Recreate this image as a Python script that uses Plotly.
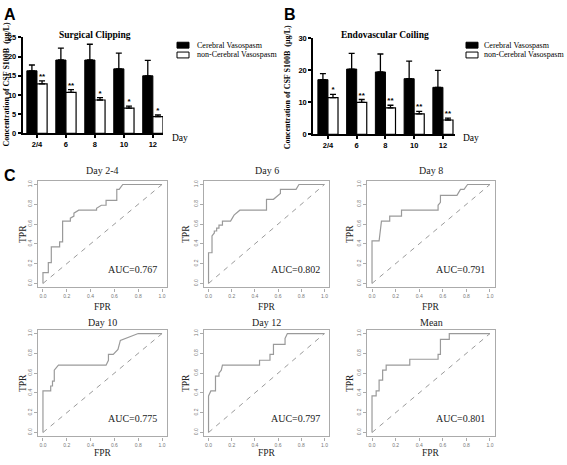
import plotly.graph_objects as go

W, H = 567, 465

# ---------------- data ----------------
days = ["2/4", "6", "8", "10", "12"]
clip_cv = [16.3, 19.1, 19.1, 16.8, 15.0]
clip_cv_err = [1.5, 3.1, 4.1, 4.1, 4.0]
clip_ncv = [12.9, 10.7, 8.7, 6.6, 4.4]
clip_ncv_err = [0.8, 0.7, 0.6, 0.5, 0.4]
clip_sig = ["**", "**", "*", "*", "*"]

coil_cv = [17.1, 20.4, 19.5, 17.4, 14.7]
coil_cv_err = [1.9, 4.9, 5.6, 5.5, 5.3]
coil_ncv = [11.5, 10.0, 8.3, 6.4, 4.5]
coil_ncv_err = [1.0, 0.9, 0.8, 0.8, 0.6]
coil_sig = ["*", "**", "**", "**", "**"]

roc_titles = ["Day 2-4", "Day 6", "Day 8", "Day 10", "Day 12", "Mean"]
roc_auc = ["0.767", "0.802", "0.791", "0.775", "0.797", "0.801"]
roc_fpr = [
    [0, 0, 0.045, 0.045, 0.07, 0.07, 0.14, 0.14, 0.165, 0.165, 0.23, 0.23, 0.26, 0.26, 0.30, 0.45, 0.45, 0.49, 0.53, 0.53, 0.62, 0.62, 0.64, 0.67, 1],
    [0, 0, 0.03, 0.03, 0.05, 0.05, 0.07, 0.07, 0.09, 0.09, 0.12, 0.12, 0.19, 0.22, 0.27, 0.50, 0.50, 0.56, 0.62, 0.62, 0.755, 0.78, 1],
    [0, 0, 0.06, 0.08, 0.15, 0.15, 0.25, 0.25, 0.56, 0.56, 0.58, 0.58, 0.72, 0.75, 0.78, 0.81, 1],
    [0, 0, 0.065, 0.065, 0.08, 0.08, 0.095, 0.095, 0.13, 0.53, 0.55, 0.55, 0.59, 0.63, 0.65, 0.69, 0.80, 1],
    [0, 0, 0.02, 0.06, 0.06, 0.09, 0.09, 0.11, 0.12, 0.44, 0.44, 0.53, 0.53, 0.56, 0.56, 0.66, 0.66, 0.68, 1],
    [0, 0, 0.035, 0.035, 0.06, 0.06, 0.09, 0.09, 0.12, 0.12, 0.32, 0.32, 0.56, 0.56, 0.58, 0.58, 0.655, 0.655, 1],
]
roc_tpr = [
    [0, 0.11, 0.11, 0.21, 0.21, 0.37, 0.37, 0.42, 0.42, 0.63, 0.63, 0.66, 0.68, 0.71, 0.74, 0.74, 0.76, 0.79, 0.79, 0.84, 0.84, 0.95, 0.95, 1.0, 1.0],
    [0, 0.31, 0.31, 0.48, 0.51, 0.53, 0.53, 0.56, 0.56, 0.59, 0.59, 0.63, 0.63, 0.69, 0.74, 0.74, 0.85, 0.85, 0.91, 0.95, 0.95, 1.0, 1.0],
    [0, 0.43, 0.43, 0.63, 0.63, 0.68, 0.68, 0.74, 0.74, 0.79, 0.82, 0.89, 0.89, 0.95, 0.95, 1.0, 1.0],
    [0, 0.42, 0.42, 0.47, 0.47, 0.52, 0.52, 0.63, 0.68, 0.68, 0.73, 0.79, 0.79, 0.84, 0.93, 0.95, 1.0, 1.0],
    [0, 0.37, 0.42, 0.42, 0.57, 0.57, 0.60, 0.63, 0.68, 0.68, 0.73, 0.73, 0.79, 0.79, 0.89, 0.89, 0.95, 1.0, 1.0],
    [0, 0.37, 0.37, 0.42, 0.42, 0.53, 0.53, 0.63, 0.63, 0.68, 0.68, 0.74, 0.74, 0.79, 0.79, 0.94, 0.94, 1.0, 1.0],
]
roc_ticks = [0, 0.2, 0.4, 0.6, 0.8, 1.0]

# ---------------- helpers ----------------
def px(x):
    return x / W

def py(y):
    return 1 - y / H

SERIF = "Liberation Serif, Times New Roman, serif"
SANS = "Liberation Sans, Arial, sans-serif"

fig = go.Figure()
annotations = []
shapes = []


def note(text, x, y, size, family=SERIF, color="black", weight="normal", xanchor="center",
         yanchor="middle", angle=0, xref="paper", yref="paper"):
    if xref == "paper":
        x = px(x)
    if yref == "paper":
        y = py(y)
    annotations.append(dict(text=text, x=x, y=y, xref=xref, yref=yref, showarrow=False,
                            xanchor=xanchor, yanchor=yanchor, textangle=angle,
                            font=dict(family=family, size=size, color=color, weight=weight)))


# ---------------- bar panels A and B ----------------
bar_panels = [
    dict(cv=clip_cv, cve=clip_cv_err, ncv=clip_ncv, ncve=clip_ncv_err, sig=clip_sig,
         title="Surgical Clipping", xd=(22.5, 163), yd=(34, 132), yr=25, ytv=[0, 5, 10, 15, 20, 25],
         xr=[-0.5, 4.35], letter=("A", 2), ylab_x=6, ylab_y=82, day_x=170, title_x=95,
         leg_x=177, leg_tx=195),
    dict(cv=coil_cv, cve=coil_cv_err, ncv=coil_ncv, ncve=coil_ncv_err, sig=coil_sig,
         title="Endovascular Coiling", xd=(313, 455), yd=(35, 133), yr=30, ytv=[0, 10, 20, 30],
         xr=[-0.52, 4.42], letter=("B", 282), ylab_x=287, ylab_y=85, day_x=461, title_x=385,
         leg_x=466, leg_tx=482),
]

axis_idx = 1
for p in bar_panels:
    xa = "x" if axis_idx == 1 else f"x{axis_idx}"
    ya = "y" if axis_idx == 1 else f"y{axis_idx}"
    xpos = list(range(len(days)))
    fig.add_trace(go.Bar(
        x=xpos, y=p["cv"], width=0.35, offset=-0.35, name="Cerebral Vasospasm",
        marker=dict(color="black", line=dict(color="black", width=1)),
        error_y=dict(type="data", array=p["cve"], arrayminus=[0] * 5, symmetric=False,
                     color="black", thickness=1.3, width=3),
        xaxis=xa, yaxis=ya, showlegend=False))
    fig.add_trace(go.Bar(
        x=xpos, y=p["ncv"], width=0.35, offset=0, name="non-Cerebral Vasospasm",
        marker=dict(color="white", line=dict(color="black", width=1.2)),
        error_y=dict(type="data", array=p["ncve"], arrayminus=[0] * 5, symmetric=False,
                     color="black", thickness=1.3, width=3),
        xaxis=xa, yaxis=ya, showlegend=False))
    fig.add_trace(go.Scatter(
        x=[i + 0.175 for i in xpos], y=[a + b for a, b in zip(p["ncv"], p["ncve"])],
        mode="text", text=p["sig"], textposition="top center",
        textfont=dict(family=SANS, size=8, color="black", weight="bold"),
        xaxis=xa, yaxis=ya, showlegend=False, hoverinfo="skip"))

    axfont = dict(family=SANS, size=7.5, color="black", weight="bold")
    fig.update_layout(**{
        ("xaxis" if axis_idx == 1 else f"xaxis{axis_idx}"): dict(
            domain=[px(p["xd"][0]), px(p["xd"][1])], range=p["xr"], anchor=ya,
            tickvals=xpos, ticktext=days, showline=True, linecolor="black", linewidth=1.5,
            ticks="outside", ticklen=3, tickwidth=1.5, tickcolor="black", tickfont=axfont,
            showgrid=False, zeroline=False, fixedrange=True),
        ("yaxis" if axis_idx == 1 else f"yaxis{axis_idx}"): dict(
            domain=[py(p["yd"][1]), py(p["yd"][0])], range=[0, p["yr"]], anchor=xa,
            tickvals=p["ytv"], showline=True, linecolor="black", linewidth=1.5,
            ticks="outside", ticklen=3, tickwidth=1.5, tickcolor="black", tickfont=axfont,
            showgrid=False, zeroline=False, fixedrange=True),
    })

    note(p["title"], p["title_x"], 32, 9.5, weight="bold")
    note("Concentration of CSF S100B  (μg/L)", p["ylab_x"], p["ylab_y"], 8, weight="bold", angle=-90)
    note("Day", p["day_x"], 137, 9.5, xanchor="left")
    note(p["letter"][0], p["letter"][1], 11, 16, family=SANS, weight="bold", xanchor="left")
    # legend swatches + labels
    for lab, col, yc in [("Cerebral Vasospasm", "black", 42), ("non-Cerebral Vasospasm", "white", 52)]:
        shapes.append(dict(type="rect", xref="paper", yref="paper",
                           x0=px(p["leg_x"]), x1=px(p["leg_x"] + 12), y0=py(yc + 3), y1=py(yc - 3),
                           fillcolor=col, line=dict(color="black", width=1)))
        note(lab, p["leg_tx"], yc, 8, xanchor="left")
    axis_idx += 1

note("C", 2, 175, 16, family=SANS, weight="bold", xanchor="left")

# ---------------- ROC panels C ----------------
cols = [(38.2, 166.8), (203.9, 329.1), (367.3, 494.7)]
rows = [(180, 289), (332, 441)]
title_y = [170, 325]
fpr_y = [309, 458]
tpr_x = [23, 186, 350]
LINE = "#9a9a9a"
FRAME = "#ababab"

for k in range(6):
    r, c = divmod(k, 3)
    xa = f"x{axis_idx}"
    ya = f"y{axis_idx}"
    fig.add_trace(go.Scatter(x=[0, 1], y=[0, 1], mode="lines",
                             line=dict(color=LINE, width=1, dash="5px,5px"),
                             xaxis=xa, yaxis=ya, showlegend=False, hoverinfo="skip"))
    fig.add_trace(go.Scatter(x=roc_fpr[k], y=roc_tpr[k], mode="lines",
                             line=dict(color=LINE, width=1.2),
                             xaxis=xa, yaxis=ya, showlegend=False, name=roc_titles[k]))
    tf = dict(family=SANS, size=5, color="#777")
    fig.update_layout(**{
        f"xaxis{axis_idx}": dict(domain=[px(cols[c][0]), px(cols[c][1])], range=[-0.04, 1.04], anchor=ya,
                                 tickvals=roc_ticks, tickformat=".1f", showline=True, mirror=True,
                                 linecolor=FRAME, linewidth=1.2, ticks="outside", ticklen=3,
                                 tickcolor=FRAME, tickwidth=1, tickfont=tf,
                                 showgrid=False, zeroline=False, fixedrange=True),
        f"yaxis{axis_idx}": dict(domain=[py(rows[r][1]), py(rows[r][0])], range=[-0.04, 1.04], anchor=xa,
                                 tickvals=roc_ticks, tickformat=".1f", showline=True, mirror=True,
                                 linecolor=FRAME, linewidth=1.2, ticks="outside", ticklen=3,
                                 tickcolor=FRAME, tickwidth=1, tickfont=tf, tickangle=-90,
                                 showgrid=False, zeroline=False, fixedrange=True),
    })
    cx = (cols[c][0] + cols[c][1]) / 2
    note(roc_titles[k], cx, title_y[r], 10, color="#222")
    note("FPR", cx, fpr_y[r], 9.5, color="#222")
    note("TPR", tpr_x[c], (rows[r][0] + rows[r][1]) / 2, 9.5, color="#222", angle=-90)
    note("AUC=" + roc_auc[k], 0.975, 0.14, 10, color="#222", xanchor="right", xref=xa, yref=ya)
    axis_idx += 1

fig.update_layout(
    width=W, height=H, margin=dict(l=0, r=0, t=0, b=0),
    paper_bgcolor="white", plot_bgcolor="white",
    showlegend=False, annotations=annotations, shapes=shapes,
    barmode="overlay",
)
fig.write_html("out.html", config={"displayModeBar": False},
               post_script="document.body.style.margin='0px';document.body.style.overflow='hidden';")
